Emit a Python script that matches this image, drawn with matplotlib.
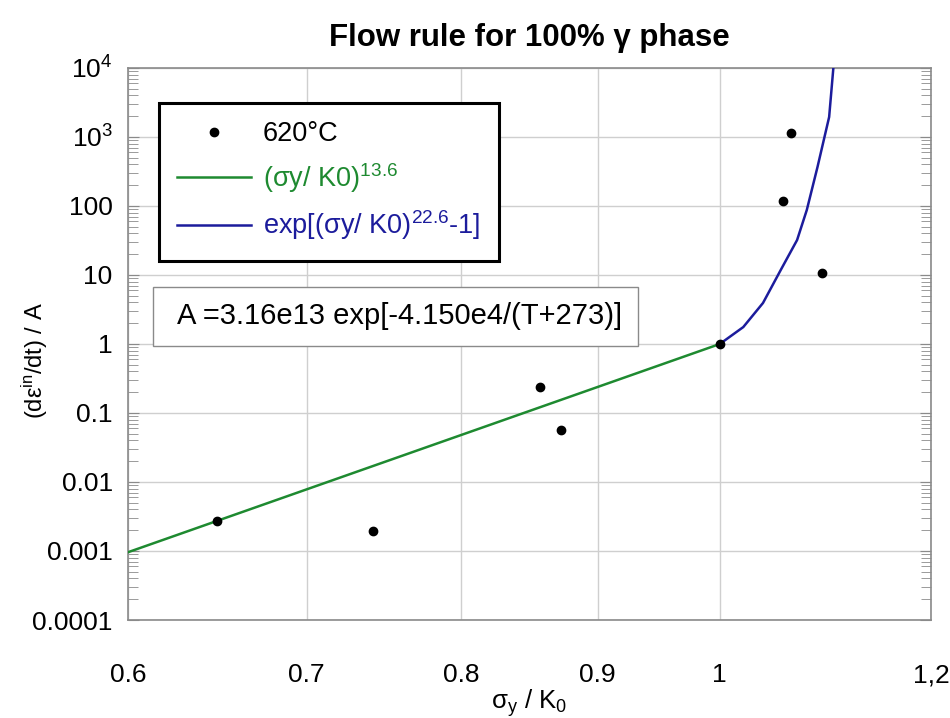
import matplotlib
matplotlib.use("Agg")
import matplotlib.pyplot as plt
import matplotlib.ticker as mticker
from matplotlib.patches import Rectangle

# measured points at 620 C
sigma_pts = [0.648, 0.741, 0.856, 0.872, 1.0, 1.056, 1.063, 1.092]
rate_pts = [0.00272, 0.00195, 0.238, 0.0567, 1.0, 118, 1143, 10.7]

# power-law branch (sigma/K0)^13.6
power_x = [0.6, 1.0]
power_y = [0.00096, 1.0]

# exponential branch above sigma/K0 = 1
exp_x = [1.0, 1.0205, 1.038, 1.054, 1.069, 1.078, 1.088, 1.099, 1.103]
exp_y = [1.0, 1.76, 3.93, 11.8, 32.1, 87.5, 367, 1950, 10000]

x_ticks = [0.6, 0.7, 0.8, 0.9, 1.0, 1.2]
x_ticklabels = ["0.6", "0.7", "0.8", "0.9", "1", "1,2"]
y_ticks = [1e-4, 1e-3, 1e-2, 1e-1, 1, 10, 100, 1e3, 1e4]
y_ticklabels = ["0.0001", "0.001", "0.01", "0.1", "1", "10", "100",
                "$10^{3}$", "$10^{4}$"]

plt.rcParams.update({
    "font.family": ["Liberation Sans", "DejaVu Sans"],
    "mathtext.fontset": "custom",
    "mathtext.rm": "Liberation Sans",
    "mathtext.it": "Liberation Sans:italic",
    "mathtext.bf": "Liberation Sans:bold",
})

green = "#1e8a30"
blue = "#1c1c9c"
spine_gray = "#8a8a8a"

fig = plt.figure(figsize=(9.5, 7.18), dpi=100)
ax = fig.add_axes([128 / 950, 1 - 620 / 718, 803 / 950, 552 / 718])

ax.set_xscale("log")
ax.set_yscale("log")
ax.set_xlim(0.6, 1.2)
ax.set_ylim(1e-4, 1e4)

ax.plot(sigma_pts, rate_pts, "o", color="black", markersize=6,
        label="620°C", zorder=5)
ax.plot(power_x, power_y, color=green, lw=1.8,
        label="(σy/ K0)$^{13.6}$", zorder=3)
ax.plot(exp_x, exp_y, color=blue, lw=1.8,
        label="exp[(σy/ K0)$^{22.6}$-1]", zorder=3)

# axes, ticks and grid
ax.xaxis.set_major_locator(mticker.FixedLocator(x_ticks))
ax.xaxis.set_major_formatter(mticker.FixedFormatter(x_ticklabels))
ax.xaxis.set_minor_locator(mticker.NullLocator())
ax.yaxis.set_major_locator(mticker.FixedLocator(y_ticks))
ax.yaxis.set_major_formatter(mticker.FixedFormatter(y_ticklabels))
ax.yaxis.set_minor_locator(mticker.LogLocator(base=10, subs=range(2, 10), numticks=20))
ax.yaxis.set_minor_formatter(mticker.NullFormatter())

ax.tick_params(axis="x", which="major", length=0, pad=31, labelsize=19)
ax.tick_params(axis="y", which="major", direction="in", length=8,
               color=spine_gray, labelsize=19, pad=11, right=True)
ax.tick_params(axis="y", which="minor", direction="in", length=7,
               color=spine_gray, right=True)
ax.grid(True, which="major", color="#cfcfcf", lw=1.0)
ax.set_axisbelow(True)
for sp in ax.spines.values():
    sp.set_color(spine_gray)
    sp.set_linewidth(1.2)

ax.set_title("Flow rule for 100% γ phase", fontsize=22.5,
             fontweight="bold", pad=16)
ax.set_xlabel("σ$_{\\mathrm{y}}$ / K$_{\\mathrm{0}}$", fontsize=18.5)
ax.xaxis.set_label_coords(0.5, -0.122)
ax.set_ylabel(r"(dε$^{\mathrm{in}}$/dt) / A", fontsize=17)
ax.yaxis.set_label_coords(-0.097, 0.47)

leg = ax.legend(loc="upper left", bbox_to_anchor=(0.0386, 0.9366),
                fontsize=19.5, frameon=True, fancybox=False,
                handlelength=2.7, handletextpad=0.45, labelspacing=0.5,
                borderpad=0.68, borderaxespad=0.0, labelcolor="linecolor")
leg.get_frame().set_edgecolor("black")
leg.get_frame().set_linewidth(2.2)
leg.get_frame().set_alpha(1.0)

# note box with the A prefactor
ax.add_patch(Rectangle((0.0311, 0.4964), 0.6039, 0.1069, transform=ax.transAxes,
                       facecolor="white", edgecolor="#8a8a8a", lw=1.0, zorder=6))
ax.text(0.061, 0.5505, "A =3.16e13 exp[-4.150e4/(T+273)]", transform=ax.transAxes,
        fontsize=21, va="center", ha="left", zorder=7)

fig.savefig("out.png", dpi=100, facecolor="white")
